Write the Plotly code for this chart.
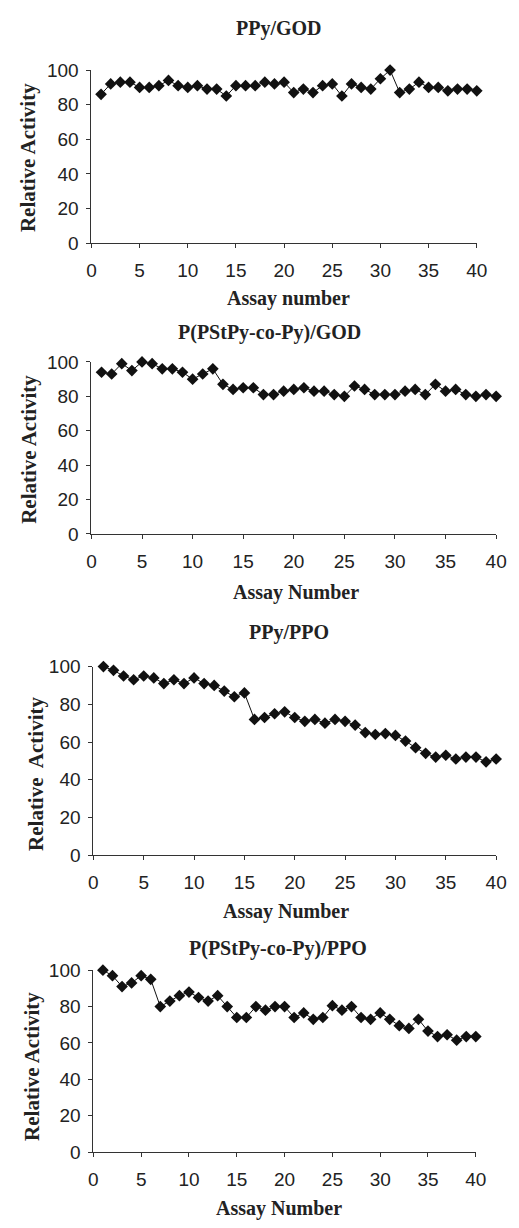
import plotly.graph_objects as go

# Browser body has an 8px default margin; lay the figure out in window pixels
# and compensate for it.
OFF = 8
W, H = 519 - 2 * OFF, 1228 - 2 * OFF

assay = list(range(1, 41))

ppy_god = [86, 92, 93, 93, 90, 90, 91, 94, 91, 90,
           91, 89, 89, 85, 91, 91, 91, 93, 92, 93,
           87, 89, 87, 91, 92, 85, 92, 90, 89, 95,
           100, 87, 89, 93, 90, 90, 88, 89, 89, 88]

pstpy_god = [94, 93, 99, 95, 100, 99, 96, 96, 94, 90,
             93, 96, 87, 84, 85, 85, 81, 81, 83, 84,
             85, 83, 83, 81, 80, 86, 84, 81, 81, 81,
             83, 84, 81, 87, 83, 84, 81, 80, 81, 80]

ppy_ppo = [100, 98, 95, 93, 95, 94, 91, 93, 91, 94,
           91, 90, 87, 84, 86, 72, 73, 75, 76, 73,
           71, 72, 70, 72, 71, 69, 65, 64, 64.5, 63.5,
           60.5, 57, 54, 52, 53, 51, 52, 52, 49.5, 51]

pstpy_ppo = [100, 97, 91, 93, 97, 95, 80, 83, 86, 88,
             85, 83, 86, 80, 74, 74, 80, 78, 80, 80,
             74, 76.5, 73, 74, 80.5, 78, 80, 74, 73, 76.5,
             73, 69.5, 68, 73, 66.5, 63.5, 64.5, 61.5, 63.5, 63.5]

titles = ["PPy/GOD", "P(PStPy-co-Py)/GOD", "PPy/PPO", "P(PStPy-co-Py)/PPO"]
xtitles = ["Assay number", "Assay Number", "Assay Number", "Assay Number"]
ytitles = ["Relative Activity", "Relative Activity", "Relative  Activity", "Relative Activity"]
series = [ppy_god, pstpy_god, ppy_ppo, pstpy_ppo]

xticks = [0, 5, 10, 15, 20, 25, 30, 35, 40]
yticks = [0, 20, 40, 60, 80, 100]

# window-pixel layout of each panel: x-left, x-right, y-top(100), y-bottom(0)
panels = [
    dict(x0=89, x1=487, yt=61, yb=237, tx=283, ty=19, ax=293, ay=293, yx=23, yy=150),
    dict(x0=89, x1=507, yt=358, yb=533, tx=273, ty=328, ax=300, ay=593, yx=25, yy=447),
    dict(x0=91, x1=507, yt=668, yb=860, tx=293, ty=633, ax=290, ay=917, yx=31, yy=777),
    dict(x0=91, x1=486, yt=977, yb=1162, tx=282, ty=955, ax=283, ay=1219, yx=27, yy=1075),
]


def px(x):
    return (x - OFF) / W


def py(y):
    return 1 - (y - OFF) / H


fig = go.Figure()
annotations = []
serif = "Liberation Serif, Times New Roman, serif"
sans = "Liberation Sans, Arial, sans-serif"

for i, (p, ys) in enumerate(zip(panels, series)):
    n = i + 1
    xa = "x" if n == 1 else f"x{n}"
    ya = "y" if n == 1 else f"y{n}"
    fig.add_trace(go.Scatter(
        x=assay, y=ys, xaxis=xa, yaxis=ya, mode="lines+markers",
        line=dict(color="#111111", width=1),
        marker=dict(symbol="diamond", size=9, color="#111111"),
        cliponaxis=False, showlegend=False))
    xdom = [px(p["x0"]), px(p["x1"])]
    ydom = [py(p["yb"]), py(p["yt"])]
    axis_common = dict(showgrid=False, zeroline=False, showline=True,
                       linecolor="#333333", linewidth=1, ticks="outside",
                       ticklen=4, tickcolor="#333333", tickwidth=1,
                       tickfont=dict(family=sans, size=19, color="#222222"))
    fig.update_layout(**{
        ("xaxis" if n == 1 else f"xaxis{n}"): dict(
            domain=xdom, range=[0, 40], tickvals=xticks, anchor=ya,
            ticklabelstandoff=6, **axis_common),
        ("yaxis" if n == 1 else f"yaxis{n}"): dict(
            domain=ydom, range=[0, 100], tickvals=yticks, anchor=xa,
            ticklabelstandoff=4, **axis_common),
    })
    annotations.append(dict(text=f"<b>{titles[i]}</b>", x=px(p["tx"]), y=py(p["ty"]),
                            xref="paper", yref="paper", showarrow=False,
                            xanchor="center", yanchor="middle",
                            font=dict(family=serif, size=20, color="#222222")))
    annotations.append(dict(text=f"<b>{xtitles[i]}</b>", x=px(p["ax"]), y=py(p["ay"]),
                            xref="paper", yref="paper", showarrow=False,
                            xanchor="center", yanchor="middle",
                            font=dict(family=serif, size=20, color="#222222")))
    annotations.append(dict(text=f"<b>{ytitles[i]}</b>", x=px(p["yx"]), y=py(p["yy"]),
                            xref="paper", yref="paper", showarrow=False, textangle=-90,
                            xanchor="center", yanchor="middle",
                            font=dict(family=serif, size=21, color="#222222")))

fig.update_layout(width=W, height=H, margin=dict(l=0, r=0, t=0, b=0),
                  paper_bgcolor="white", plot_bgcolor="white",
                  annotations=annotations)

fig.write_html("out.html")
